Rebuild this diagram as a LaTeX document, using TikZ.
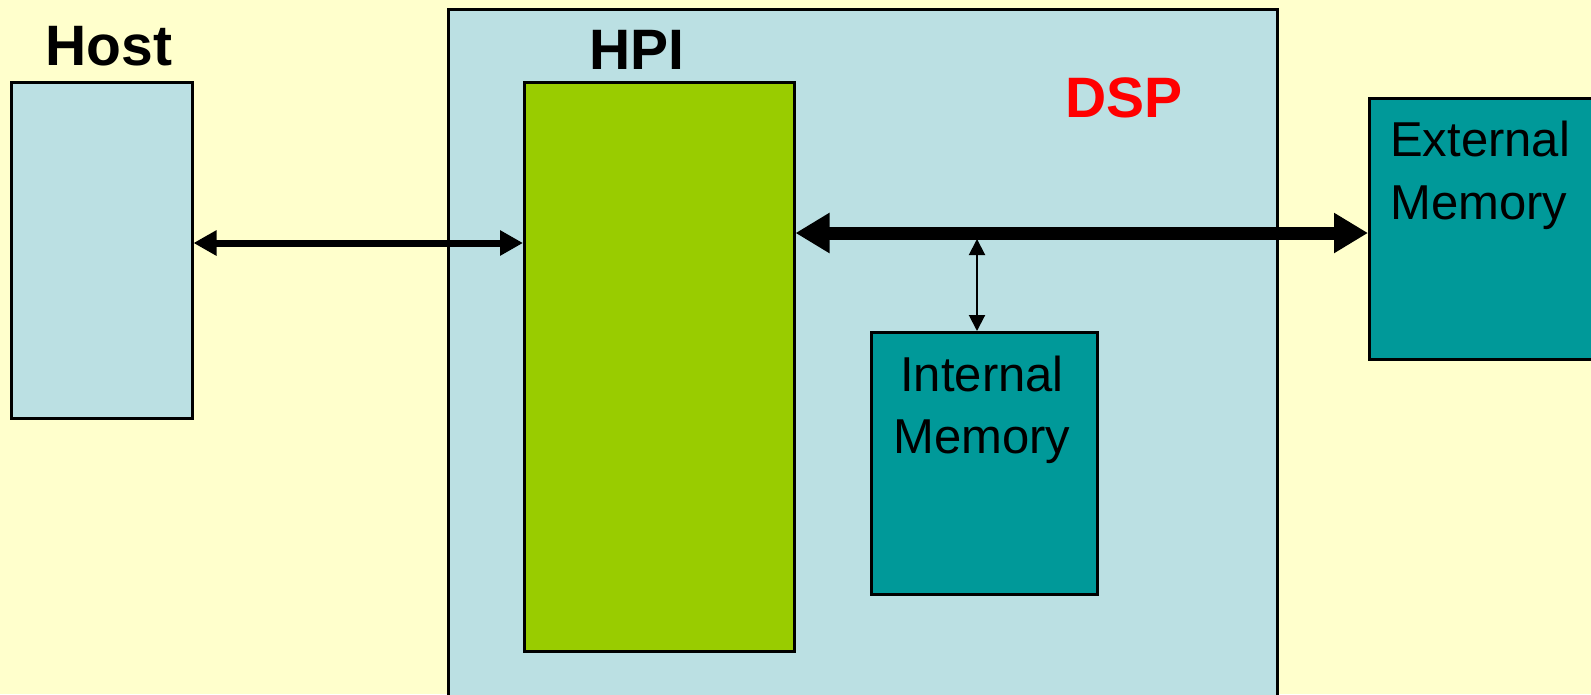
\documentclass[tikz,border=0pt]{standalone}
\usepackage{fontspec}
\setmainfont{Liberation Sans}
\usetikzlibrary{arrows.meta}
\definecolor{bgyellow}{HTML}{FFFFCC}
\definecolor{dspblue}{HTML}{BBE0E3}
\definecolor{hpigreen}{HTML}{99CC00}
\definecolor{memteal}{HTML}{009999}
\definecolor{dspred}{HTML}{FF0000}
\tikzset{
  blk/.style={draw=black, line width=2.5pt, rectangle, anchor=north west, inner sep=0pt},
  title/.style={font=\fontsize{57}{60}\selectfont\bfseries, anchor=base, inner sep=0pt},
  memtext/.style={font=\fontsize{49}{60}\selectfont, anchor=base, inner sep=0pt},
  thickarrow/.style={line width=7pt, {Triangle[length=23pt,width=24pt]}-{Triangle[length=23pt,width=24pt]}},
  busarrow/.style={line width=13pt, {Triangle[length=34pt,width=38pt]}-{Triangle[length=34pt,width=38pt]}},
  thinarrow/.style={line width=2pt, {Triangle[length=16pt,width=16pt]}-{Triangle[length=16pt,width=16pt]}}
}
\begin{document}
\begin{tikzpicture}[x=1pt,y=-1pt]
\fill[bgyellow] (0,0) rectangle (1591,694);
\useasboundingbox (0,0) rectangle (1591,694);
% boxes
\node[blk, fill=dspblue, minimum width=829pt, minimum height=720pt] (dsp) at (447,8) {};
\node[blk, fill=dspblue, minimum width=181pt, minimum height=336pt] (host) at (10,81) {};
\node[blk, fill=hpigreen, minimum width=270pt, minimum height=569pt] (hpi) at (523,81) {};
\node[blk, fill=memteal, minimum width=226pt, minimum height=262pt] (int) at (870,331) {};
\node[blk, fill=memteal, minimum width=260pt, minimum height=261pt] (ext) at (1368,97) {};
% labels
\node[title] (hostlbl) at (109,65) {Host};
\node[title] (hpilbl) at (637,69) {HPI};
\node[title, text=dspred] (dsplbl) at (1124,117) {DSP};
\node[memtext] (intl1) at (982,391) {Internal};
\node[memtext] (intl2) at (982,453) {Memory};
\node[memtext, anchor=base west] (extl1) at (1390,156) {External};
\node[memtext, anchor=base west] (extl2) at (1390,219) {Memory};
% connectors
\coordinate (hy) at (0,243);
\coordinate (by) at (0,233);
\coordinate (tap) at (977,239);
\draw[thickarrow] (host.east |- hy) -- (hpi.west |- hy);
\draw[busarrow] (hpi.east |- by) -- (ext.west |- by);
\draw[thinarrow] (tap) -- (tap |- int.north);
\end{tikzpicture}
\end{document}
